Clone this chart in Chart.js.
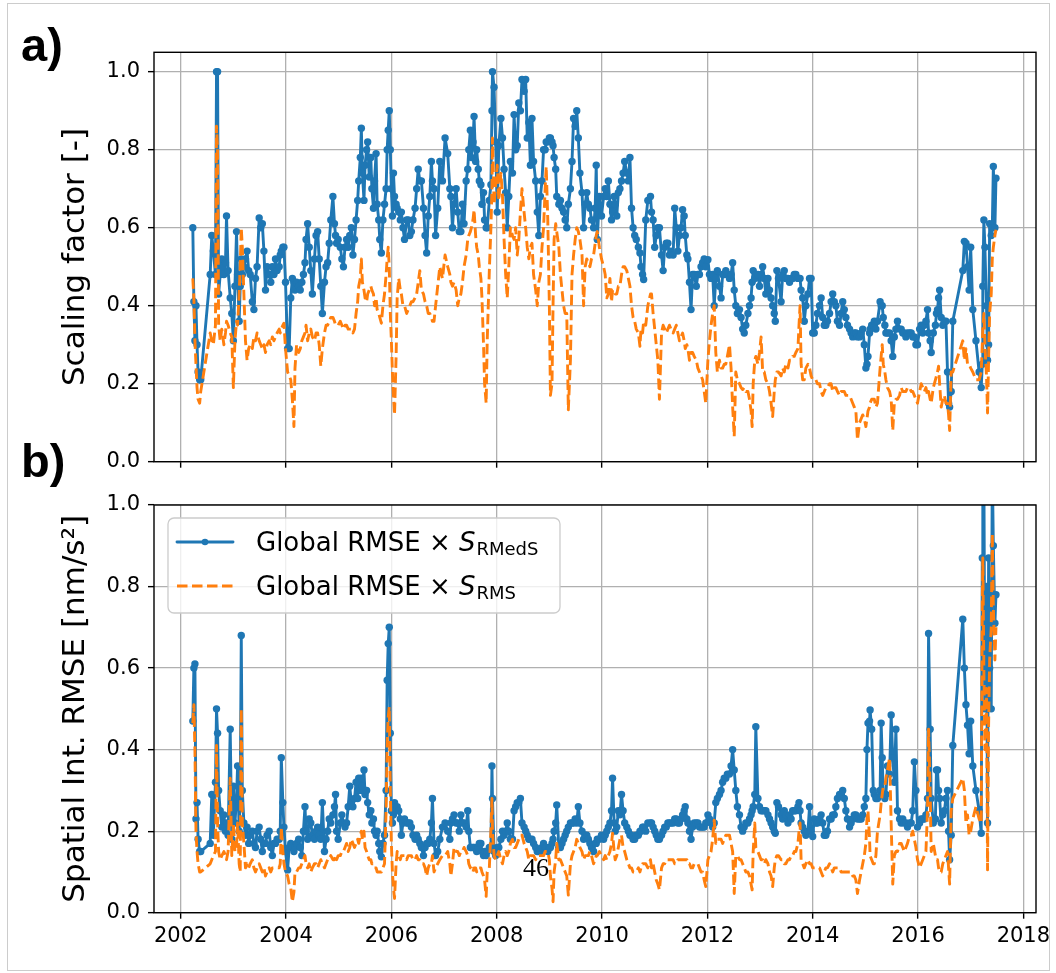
<!DOCTYPE html>
<html><head><meta charset="utf-8">
<script src="https://cdn.jsdelivr.net/npm/chart.js@4.4.1/dist/chart.umd.min.js"></script>
<style>
html,body{margin:0;padding:0;background:#fff;}
#wrap{position:relative;width:1056px;height:973px;overflow:hidden;background:#fff;}
canvas{position:absolute;left:0;top:0;}
.lbl{position:absolute;font-family:"Liberation Sans",Arial,sans-serif;font-weight:bold;font-size:47px;line-height:1;color:#000;}
#pg{position:absolute;font-family:"Liberation Serif",serif;font-size:26px;line-height:1;color:#000;}
#border{position:absolute;left:7px;top:3px;width:1041px;height:966px;border:1px solid #cccccc;}
</style></head>
<body><div id="wrap">
<div id="border"></div>
<canvas id="c1" width="1056" height="973"></canvas>
<canvas id="c2" width="1056" height="973"></canvas>
<div class="lbl" style="left:21px;top:21px">a)</div>
<div class="lbl" style="left:21px;top:437px">b)</div>
<div id="pg" style="left:523px;top:855px">46</div>
</div>
<script>
// ---- data (decimal years) ----
const dates = [
2002.23,2002.25,2002.27,2002.29,2002.31,2002.33,2002.36,2002.38,2002.56,2002.59,
2002.62,2002.66,2002.68,2002.70,2002.72,2002.75,2002.78,2002.82,2002.85,2002.87,
2002.90,2002.94,2002.97,2003.00,2003.03,2003.06,2003.08,2003.11,2003.13,2003.15,
2003.17,2003.20,2003.23,2003.26,2003.29,2003.32,2003.36,2003.39,2003.42,2003.45,
2003.49,2003.52,2003.55,2003.58,2003.61,2003.64,2003.68,2003.71,2003.74,2003.77,
2003.80,2003.83,2003.87,2003.89,2003.91,2003.94,2003.96,2003.99,2004.03,2004.06,
2004.09,2004.12,2004.15,2004.17,2004.20,2004.24,2004.27,2004.30,2004.33,2004.36,
2004.38,2004.41,2004.44,2004.47,2004.50,2004.54,2004.57,2004.60,2004.63,2004.66,
2004.69,2004.73,2004.76,2004.79,2004.82,2004.85,2004.89,2004.92,2004.94,2004.96,
2004.99,2005.03,2005.06,2005.09,2005.12,2005.15,2005.18,2005.21,2005.24,2005.27,
2005.30,2005.33,2005.36,2005.38,2005.41,2005.43,2005.45,2005.48,2005.50,2005.53,
2005.55,2005.58,2005.61,2005.63,2005.66,2005.68,2005.71,2005.73,2005.76,2005.78,
2005.81,2005.84,2005.87,2005.90,2005.92,2005.94,2005.96,2005.98,2006.00,2006.02,
2006.04,2006.06,2006.09,2006.11,2006.14,2006.17,2006.19,2006.22,2006.25,2006.29,
2006.32,2006.35,2006.38,2006.41,2006.45,2006.48,2006.51,2006.54,2006.57,2006.61,
2006.64,2006.67,2006.70,2006.73,2006.76,2006.78,2006.81,2006.84,2006.88,2006.92,
2006.97,2007.02,2007.07,2007.11,2007.13,2007.16,2007.19,2007.23,2007.26,2007.29,
2007.32,2007.35,2007.38,2007.42,2007.45,2007.47,2007.50,2007.52,2007.55,2007.57,
2007.60,2007.62,2007.65,2007.67,2007.70,2007.72,2007.75,2007.77,2007.80,2007.82,
2007.86,2007.89,2007.91,2007.92,2007.95,2007.98,2008.01,2008.04,2008.08,2008.11,
2008.14,2008.17,2008.20,2008.23,2008.26,2008.30,2008.33,2008.36,2008.39,2008.42,
2008.45,2008.48,2008.52,2008.55,2008.58,2008.61,2008.64,2008.67,2008.70,2008.74,
2008.77,2008.80,2008.83,2008.86,2008.89,2008.92,2008.94,2008.97,2009.00,2009.02,
2009.05,2009.07,2009.09,2009.12,2009.14,2009.18,2009.21,2009.24,2009.27,2009.30,
2009.33,2009.36,2009.40,2009.43,2009.46,2009.49,2009.52,2009.55,2009.58,2009.62,
2009.65,2009.68,2009.71,2009.74,2009.77,2009.80,2009.84,2009.87,2009.89,2009.91,
2009.95,2009.99,2010.03,2010.06,2010.09,2010.12,2010.15,2010.18,2010.20,2010.23,
2010.25,2010.28,2010.31,2010.34,2010.37,2010.40,2010.43,2010.47,2010.50,2010.53,
2010.56,2010.59,2010.62,2010.65,2010.69,2010.72,2010.74,2010.77,2010.79,2010.83,
2010.87,2010.92,2010.94,2010.97,2011.00,2011.03,2011.06,2011.09,2011.13,2011.16,
2011.19,2011.22,2011.25,2011.28,2011.31,2011.35,2011.38,2011.41,2011.44,2011.47,
2011.50,2011.53,2011.56,2011.58,2011.61,2011.63,2011.66,2011.69,2011.72,2011.75,
2011.79,2011.82,2011.85,2011.88,2011.91,2011.94,2011.97,2012.01,2012.04,2012.07,
2012.10,2012.13,2012.16,2012.19,2012.23,2012.26,2012.29,2012.32,2012.35,2012.38,
2012.42,2012.45,2012.48,2012.51,2012.54,2012.57,2012.61,2012.64,2012.67,2012.70,
2012.73,2012.77,2012.80,2012.83,2012.85,2012.87,2012.90,2012.92,2012.96,2012.99,
2013.02,2013.05,2013.08,2013.11,2013.15,2013.18,2013.21,2013.24,2013.27,2013.29,
2013.32,2013.35,2013.40,2013.43,2013.46,2013.49,2013.53,2013.56,2013.59,2013.62,
2013.65,2013.68,2013.72,2013.74,2013.76,2013.78,2013.81,2013.84,2013.87,2013.91,
2013.94,2013.97,2014.00,2014.03,2014.06,2014.09,2014.13,2014.16,2014.19,2014.22,
2014.25,2014.28,2014.32,2014.35,2014.38,2014.41,2014.44,2014.47,2014.51,2014.54,
2014.57,2014.60,2014.63,2014.66,2014.70,2014.73,2014.76,2014.79,2014.82,2014.85,
2014.89,2014.92,2014.95,2014.98,2015.01,2015.03,2015.05,2015.08,2015.09,2015.12,
2015.15,2015.17,2015.20,2015.23,2015.28,2015.30,2015.32,2015.34,2015.37,2015.39,
2015.42,2015.46,2015.49,2015.52,2015.55,2015.58,2015.61,2015.65,2015.68,2015.71,
2015.74,2015.77,2015.80,2015.84,2015.87,2015.90,2015.93,2015.96,2015.99,2016.03,
2016.06,2016.09,2016.12,2016.15,2016.18,2016.20,2016.23,2016.25,2016.29,2016.33,
2016.35,2016.37,2016.39,2016.41,2016.44,2016.47,2016.50,2016.53,2016.56,2016.58,
2016.60,2016.63,2016.66,2016.85,2016.88,2016.91,2016.94,2016.97,2017.00,2017.04,
2017.10,2017.16,2017.20,2017.22,2017.23,2017.25,2017.27,2017.30,2017.32,2017.34,
2017.36,2017.39,2017.41,2017.43,2017.46,2017.48
];
// panel a) scaling factor, S_RMedS
const scaleRMedS = [
0.60,0.41,0.31,0.40,0.30,0.23,0.21,0.21,0.48,0.58,
0.54,0.48,1.00,1.00,0.43,0.48,0.52,0.48,0.51,0.63,
0.49,0.42,0.38,0.31,0.45,0.59,0.48,0.36,0.45,0.52,
0.48,0.50,0.52,0.54,0.49,0.48,0.41,0.39,0.47,0.50,
0.625,0.60,0.61,0.54,0.44,0.50,0.48,0.46,0.50,0.48,
0.52,0.49,0.50,0.53,0.54,0.55,0.55,0.46,0.29,0.29,
0.42,0.47,0.46,0.44,0.46,0.45,0.44,0.46,0.48,0.51,
0.57,0.61,0.55,0.49,0.43,0.52,0.58,0.59,0.52,0.45,
0.38,0.46,0.50,0.51,0.56,0.62,0.68,0.61,0.58,0.56,
0.57,0.55,0.52,0.50,0.55,0.57,0.55,0.58,0.60,0.53,
0.57,0.62,0.67,0.72,0.78,0.855,0.74,0.67,0.76,0.80,
0.82,0.73,0.78,0.70,0.65,0.72,0.79,0.66,0.62,0.57,
0.535,0.62,0.66,0.70,0.80,0.85,0.90,0.80,0.70,0.63,
0.74,0.68,0.66,0.65,0.64,0.62,0.64,0.60,0.57,0.62,
0.62,0.58,0.59,0.62,0.65,0.70,0.75,0.72,0.72,0.65,
0.58,0.535,0.63,0.68,0.77,0.72,0.70,0.58,0.65,0.77,
0.72,0.83,0.79,0.70,0.68,0.60,0.66,0.70,0.64,0.59,
0.59,0.66,0.61,0.72,0.75,0.80,0.85,0.78,0.82,0.885,
0.77,0.80,0.75,0.72,0.71,0.66,0.69,0.62,0.60,0.60,
0.67,0.71,0.90,1.00,0.96,0.82,0.64,0.81,0.88,0.83,
0.75,0.69,0.60,0.68,0.77,0.74,0.89,0.80,0.81,0.92,
0.90,0.98,0.95,0.98,0.83,0.87,0.76,0.88,0.77,0.72,
0.64,0.58,0.68,0.72,0.80,0.80,0.82,0.82,0.83,0.83,
0.82,0.81,0.78,0.75,0.68,0.66,0.67,0.65,0.64,0.62,
0.60,0.66,0.70,0.77,0.88,0.86,0.90,0.83,0.74,0.69,
0.60,0.66,0.69,0.66,0.65,0.62,0.60,0.65,0.76,0.57,
0.68,0.63,0.68,0.70,0.68,0.72,0.66,0.62,0.64,0.68,
0.66,0.63,0.69,0.70,0.72,0.74,0.77,0.74,0.72,0.78,
0.65,0.60,0.58,0.57,0.55,0.535,0.50,0.48,0.467,0.62,
0.67,0.68,0.64,0.62,0.55,0.58,0.60,0.60,0.53,0.49,
0.55,0.56,0.56,0.53,0.54,0.53,0.65,0.60,0.54,0.58,
0.60,0.646,0.63,0.58,0.53,0.52,0.46,0.39,0.48,0.48,
0.45,0.48,0.48,0.50,0.51,0.52,0.50,0.518,0.48,0.47,
0.48,0.40,0.47,0.49,0.45,0.42,0.48,0.48,0.49,0.48,
0.47,0.48,0.51,0.44,0.40,0.38,0.39,0.37,0.34,0.33,
0.35,0.38,0.40,0.42,0.46,0.49,0.47,0.48,0.48,0.45,
0.48,0.50,0.47,0.43,0.47,0.44,0.42,0.40,0.38,0.36,
0.49,0.47,0.41,0.48,0.49,0.47,0.47,0.46,0.47,0.47,
0.48,0.48,0.47,0.47,0.47,0.44,0.42,0.36,0.40,0.43,
0.47,0.47,0.33,0.33,0.35,0.38,0.40,0.42,0.37,0.35,
0.35,0.36,0.38,0.41,0.43,0.41,0.40,0.36,0.35,0.38,
0.41,0.39,0.37,0.35,0.34,0.33,0.32,0.33,0.33,0.32,
0.32,0.33,0.34,0.30,0.24,0.25,0.27,0.33,0.34,0.35,
0.35,0.36,0.34,0.36,0.41,0.40,0.40,0.37,0.35,0.33,
0.33,0.33,0.31,0.27,0.32,0.34,0.36,0.34,0.34,0.33,
0.33,0.32,0.33,0.33,0.33,0.32,0.32,0.30,0.30,0.34,
0.35,0.33,0.35,0.36,0.39,0.33,0.31,0.28,0.33,0.35,
0.38,0.39,0.42,0.44,0.37,0.35,0.36,0.36,0.23,0.15,
0.14,0.18,0.36,0.49,0.565,0.56,0.50,0.44,0.55,0.39,
0.31,0.23,0.19,0.25,0.45,0.62,0.55,0.40,0.26,0.30,
0.61,0.58,0.60,0.757,0.60,0.727
];
// panel a) scaling factor, S_RMS
const scaleRMS = [
0.47,0.42,0.31,0.25,0.19,0.16,0.15,0.18,0.33,0.31,
0.30,0.35,0.86,0.80,0.35,0.31,0.34,0.30,0.33,0.36,
0.35,0.33,0.32,0.19,0.31,0.36,0.35,0.43,0.50,0.60,
0.55,0.43,0.31,0.26,0.29,0.30,0.29,0.32,0.31,0.33,
0.31,0.30,0.29,0.30,0.28,0.30,0.31,0.30,0.32,0.31,
0.32,0.33,0.34,0.33,0.34,0.35,0.355,0.29,0.23,0.22,
0.21,0.16,0.09,0.24,0.30,0.28,0.29,0.31,0.32,0.33,
0.35,0.31,0.33,0.34,0.32,0.31,0.33,0.33,0.30,0.245,
0.29,0.33,0.35,0.35,0.36,0.37,0.37,0.36,0.35,0.35,
0.35,0.36,0.35,0.34,0.35,0.35,0.34,0.34,0.34,0.33,
0.34,0.38,0.41,0.45,0.47,0.52,0.46,0.44,0.42,0.41,
0.43,0.44,0.45,0.44,0.43,0.40,0.42,0.39,0.38,0.37,
0.355,0.40,0.43,0.48,0.52,0.55,0.50,0.38,0.31,0.23,
0.17,0.12,0.27,0.42,0.47,0.44,0.43,0.40,0.40,0.38,
0.39,0.40,0.41,0.41,0.42,0.43,0.46,0.49,0.44,0.43,
0.41,0.40,0.38,0.38,0.37,0.36,0.36,0.40,0.45,0.50,
0.47,0.53,0.50,0.48,0.46,0.45,0.46,0.44,0.40,0.42,
0.43,0.46,0.50,0.53,0.57,0.58,0.59,0.60,0.62,0.646,
0.58,0.55,0.53,0.50,0.47,0.42,0.30,0.20,0.15,0.31,
0.49,0.60,0.70,0.83,0.66,0.71,0.76,0.67,0.74,0.68,
0.57,0.48,0.42,0.50,0.60,0.58,0.57,0.60,0.53,0.57,
0.64,0.70,0.64,0.60,0.55,0.52,0.55,0.56,0.48,0.44,
0.40,0.46,0.48,0.55,0.60,0.70,0.757,0.62,0.40,0.17,
0.20,0.40,0.57,0.61,0.59,0.55,0.48,0.44,0.40,0.38,
0.38,0.133,0.26,0.48,0.53,0.57,0.60,0.59,0.57,0.53,
0.40,0.50,0.52,0.51,0.50,0.52,0.53,0.56,0.58,0.59,
0.55,0.52,0.50,0.48,0.42,0.43,0.47,0.41,0.44,0.44,
0.43,0.43,0.45,0.45,0.48,0.50,0.50,0.49,0.47,0.45,
0.40,0.37,0.36,0.34,0.33,0.296,0.34,0.33,0.36,0.35,
0.40,0.43,0.43,0.38,0.34,0.30,0.26,0.16,0.33,0.35,
0.34,0.33,0.34,0.35,0.34,0.33,0.34,0.35,0.33,0.31,
0.32,0.33,0.31,0.29,0.30,0.29,0.26,0.28,0.28,0.27,
0.26,0.24,0.23,0.22,0.21,0.18,0.15,0.26,0.31,0.35,
0.38,0.40,0.28,0.23,0.26,0.24,0.24,0.25,0.25,0.27,
0.30,0.24,0.14,0.065,0.23,0.21,0.20,0.19,0.185,0.19,
0.18,0.18,0.16,0.13,0.09,0.20,0.26,0.27,0.25,0.28,
0.32,0.23,0.23,0.21,0.20,0.18,0.15,0.116,0.18,0.21,
0.23,0.23,0.22,0.24,0.23,0.25,0.24,0.26,0.26,0.27,
0.27,0.28,0.29,0.35,0.40,0.25,0.21,0.21,0.24,0.25,
0.24,0.22,0.21,0.21,0.21,0.20,0.20,0.18,0.17,0.18,
0.19,0.19,0.20,0.20,0.18,0.19,0.19,0.18,0.17,0.18,
0.18,0.18,0.17,0.17,0.17,0.16,0.15,0.14,0.13,0.056,
0.10,0.11,0.12,0.11,0.09,0.11,0.13,0.14,0.15,0.16,
0.16,0.16,0.14,0.15,0.24,0.27,0.30,0.25,0.23,0.21,
0.19,0.18,0.16,0.08,0.15,0.16,0.16,0.17,0.19,0.18,
0.18,0.18,0.19,0.19,0.18,0.18,0.17,0.16,0.15,0.18,
0.20,0.19,0.18,0.19,0.17,0.18,0.16,0.15,0.19,0.21,
0.22,0.23,0.245,0.20,0.14,0.16,0.17,0.15,0.15,0.12,
0.08,0.23,0.23,0.31,0.26,0.29,0.25,0.25,0.24,0.23,
0.21,0.21,0.23,0.30,0.34,0.38,0.30,0.22,0.125,0.26,
0.38,0.43,0.52,0.55,0.58,0.595
];
// panel b) spatial int. RMSE [nm/s^2], Global RMSE x S_RMedS
const rmseRMedS = [
0.47,0.60,0.61,0.23,0.27,0.18,0.15,0.15,0.17,0.29,
0.19,0.32,0.50,0.44,0.30,0.25,0.21,0.24,0.20,0.22,
0.19,0.45,0.18,0.31,0.22,0.28,0.36,0.20,0.28,0.68,
0.30,0.22,0.19,0.21,0.17,0.19,0.20,0.17,0.16,0.20,
0.21,0.18,0.15,0.17,0.17,0.19,0.20,0.16,0.14,0.17,
0.17,0.18,0.18,0.20,0.38,0.27,0.21,0.15,0.105,0.16,
0.17,0.16,0.15,0.16,0.17,0.18,0.16,0.14,0.20,0.26,
0.20,0.18,0.23,0.22,0.19,0.18,0.20,0.21,0.19,0.18,
0.27,0.15,0.18,0.20,0.23,0.22,0.24,0.26,0.29,0.20,
0.18,0.22,0.24,0.22,0.21,0.22,0.26,0.31,0.27,0.26,
0.28,0.32,0.28,0.33,0.30,0.33,0.31,0.35,0.29,0.30,
0.27,0.24,0.25,0.22,0.23,0.20,0.19,0.20,0.17,0.15,
0.137,0.17,0.19,0.30,0.57,0.66,0.70,0.44,0.25,0.22,
0.24,0.27,0.25,0.26,0.25,0.23,0.19,0.22,0.23,0.22,
0.22,0.22,0.21,0.19,0.18,0.19,0.18,0.17,0.16,0.14,
0.16,0.17,0.17,0.18,0.22,0.28,0.17,0.14,0.15,0.18,
0.21,0.22,0.20,0.18,0.22,0.23,0.24,0.22,0.22,0.20,
0.24,0.22,0.22,0.21,0.25,0.20,0.16,0.16,0.16,0.16,
0.16,0.15,0.16,0.17,0.17,0.15,0.14,0.15,0.14,0.15,
0.16,0.16,0.36,0.28,0.15,0.14,0.16,0.16,0.18,0.20,
0.19,0.20,0.22,0.20,0.18,0.18,0.25,0.26,0.27,0.27,
0.28,0.22,0.21,0.20,0.19,0.18,0.18,0.18,0.17,0.16,
0.15,0.15,0.15,0.16,0.17,0.16,0.16,0.15,0.16,0.16,
0.17,0.18,0.20,0.22,0.264,0.16,0.16,0.17,0.18,0.19,
0.20,0.21,0.22,0.22,0.22,0.23,0.22,0.26,0.22,0.20,
0.18,0.19,0.19,0.18,0.17,0.16,0.15,0.17,0.17,0.18,
0.18,0.19,0.18,0.19,0.20,0.21,0.22,0.25,0.33,0.22,
0.20,0.21,0.25,0.24,0.29,0.25,0.22,0.21,0.20,0.19,
0.19,0.18,0.18,0.19,0.19,0.20,0.20,0.21,0.21,0.20,
0.22,0.22,0.22,0.21,0.20,0.19,0.18,0.18,0.19,0.20,
0.21,0.21,0.22,0.22,0.22,0.22,0.23,0.23,0.22,0.22,
0.23,0.24,0.25,0.26,0.23,0.22,0.20,0.18,0.21,0.22,
0.22,0.22,0.21,0.21,0.21,0.21,0.22,0.24,0.23,0.22,
0.21,0.22,0.27,0.28,0.29,0.30,0.32,0.33,0.33,0.34,
0.34,0.36,0.40,0.35,0.30,0.26,0.24,0.21,0.20,0.21,
0.22,0.22,0.23,0.24,0.25,0.26,0.29,0.456,0.28,0.26,
0.25,0.25,0.25,0.25,0.24,0.23,0.22,0.21,0.20,0.195,
0.27,0.26,0.24,0.23,0.25,0.24,0.22,0.24,0.23,0.25,
0.25,0.25,0.26,0.27,0.25,0.22,0.21,0.20,0.19,0.20,
0.26,0.20,0.187,0.23,0.22,0.22,0.23,0.24,0.22,0.19,
0.19,0.20,0.23,0.23,0.24,0.24,0.26,0.28,0.29,0.29,
0.30,0.28,0.25,0.23,0.21,0.22,0.23,0.24,0.24,0.23,
0.23,0.23,0.24,0.26,0.28,0.40,0.465,0.47,0.497,0.45,
0.30,0.29,0.28,0.28,0.30,0.465,0.38,0.29,0.28,0.29,
0.36,0.34,0.485,0.38,0.32,0.45,0.25,0.23,0.22,0.23,
0.22,0.22,0.21,0.22,0.22,0.25,0.37,0.30,0.21,0.22,
0.23,0.23,0.23,0.24,0.28,0.685,0.45,0.28,0.22,0.23,
0.35,0.35,0.30,0.28,0.22,0.24,0.25,0.28,0.30,0.20,
0.13,0.19,0.41,0.72,0.60,0.51,0.46,0.39,0.47,0.36,
0.30,0.25,0.195,0.87,1.10,1.10,0.50,0.80,0.22,0.87,
0.60,0.50,1.10,0.90,0.71,0.78
];
// panel b) Global RMSE x S_RMS
const rmseRMS = [
0.465,0.51,0.40,0.20,0.15,0.12,0.10,0.10,0.12,0.13,
0.14,0.15,0.41,0.22,0.15,0.13,0.14,0.15,0.14,0.13,
0.15,0.33,0.14,0.22,0.15,0.16,0.22,0.12,0.10,0.50,
0.22,0.17,0.11,0.12,0.11,0.12,0.13,0.11,0.10,0.11,
0.12,0.11,0.10,0.11,0.09,0.10,0.11,0.10,0.11,0.11,
0.11,0.11,0.11,0.12,0.21,0.15,0.12,0.10,0.09,0.07,
0.06,0.027,0.05,0.10,0.10,0.11,0.11,0.12,0.13,0.14,
0.12,0.11,0.12,0.10,0.11,0.12,0.12,0.11,0.12,0.13,
0.12,0.11,0.12,0.13,0.13,0.14,0.13,0.13,0.14,0.13,
0.14,0.14,0.15,0.15,0.16,0.17,0.15,0.16,0.18,0.17,
0.16,0.17,0.18,0.17,0.19,0.20,0.18,0.20,0.16,0.15,
0.14,0.13,0.13,0.12,0.12,0.11,0.11,0.10,0.10,0.10,
0.10,0.11,0.12,0.25,0.41,0.48,0.505,0.30,0.17,0.10,
0.06,0.035,0.12,0.15,0.14,0.13,0.14,0.14,0.14,0.13,
0.14,0.14,0.14,0.13,0.13,0.14,0.13,0.13,0.12,0.12,
0.11,0.09,0.11,0.12,0.12,0.14,0.10,0.11,0.12,0.13,
0.14,0.14,0.15,0.12,0.09,0.12,0.16,0.15,0.15,0.14,
0.15,0.15,0.16,0.15,0.14,0.12,0.11,0.11,0.10,0.11,
0.11,0.10,0.11,0.11,0.11,0.10,0.09,0.08,0.04,0.10,
0.11,0.20,0.28,0.20,0.14,0.13,0.14,0.15,0.13,0.12,
0.14,0.15,0.14,0.15,0.17,0.18,0.16,0.16,0.17,0.18,
0.19,0.19,0.17,0.16,0.15,0.13,0.14,0.14,0.14,0.13,
0.14,0.14,0.14,0.14,0.14,0.15,0.15,0.15,0.13,0.09,
0.06,0.027,0.10,0.13,0.17,0.13,0.13,0.12,0.11,0.10,
0.09,0.043,0.12,0.14,0.15,0.16,0.18,0.17,0.16,0.15,
0.13,0.14,0.14,0.14,0.15,0.14,0.12,0.13,0.14,0.14,
0.15,0.14,0.13,0.14,0.13,0.14,0.15,0.17,0.195,0.15,
0.13,0.14,0.16,0.18,0.19,0.16,0.15,0.13,0.12,0.11,
0.11,0.10,0.10,0.10,0.11,0.10,0.11,0.12,0.12,0.12,
0.11,0.13,0.11,0.12,0.10,0.08,0.07,0.056,0.11,0.12,
0.12,0.13,0.13,0.13,0.13,0.13,0.12,0.12,0.13,0.13,
0.13,0.13,0.13,0.13,0.13,0.12,0.12,0.11,0.11,0.12,
0.12,0.12,0.11,0.10,0.10,0.08,0.064,0.13,0.14,0.15,
0.18,0.227,0.17,0.18,0.18,0.18,0.17,0.18,0.19,0.19,
0.19,0.17,0.15,0.047,0.14,0.14,0.13,0.13,0.12,0.11,
0.10,0.10,0.09,0.07,0.056,0.15,0.22,0.16,0.15,0.14,
0.13,0.13,0.12,0.13,0.12,0.10,0.09,0.064,0.11,0.13,
0.14,0.14,0.13,0.13,0.12,0.12,0.13,0.13,0.14,0.14,
0.15,0.15,0.17,0.20,0.22,0.13,0.12,0.11,0.12,0.13,
0.12,0.12,0.11,0.11,0.11,0.11,0.11,0.10,0.09,0.10,
0.11,0.11,0.12,0.11,0.10,0.11,0.11,0.11,0.11,0.10,
0.10,0.10,0.10,0.10,0.10,0.10,0.09,0.09,0.08,0.047,
0.08,0.10,0.12,0.14,0.17,0.23,0.25,0.18,0.14,0.13,
0.12,0.12,0.14,0.20,0.24,0.27,0.29,0.31,0.31,0.33,
0.35,0.38,0.22,0.07,0.14,0.15,0.15,0.17,0.17,0.16,
0.15,0.16,0.17,0.19,0.19,0.20,0.18,0.16,0.13,0.11,
0.12,0.13,0.14,0.15,0.25,0.45,0.30,0.15,0.17,0.14,
0.13,0.13,0.11,0.10,0.10,0.12,0.13,0.14,0.15,0.11,
0.07,0.25,0.28,0.33,0.30,0.22,0.24,0.19,0.20,0.23,
0.26,0.23,0.22,0.76,0.87,0.60,0.40,0.55,0.105,0.46,
0.62,0.70,0.93,0.75,0.62,0.70
];
const xTickValues = [2002,2004,2006,2008,2010,2012,2014,2016,2018];
const yTickValues = [0.0,0.2,0.4,0.6,0.8,1.0];
const legendEntries = [
  {main:'Global RMSE × ', sym:'S', sub:'RMedS'},
  {main:'Global RMSE × ', sym:'S', sub:'RMS'}
];
const yTitles = ['Scaling factor [-]', 'Spatial Int. RMSE [nm/s²]'];

// ---- drawing ----
const BLUE = '#1f77b4', ORANGE = '#ff7f0e';
const FONT = '"DejaVu Sans", Verdana, sans-serif';
const LW = 2.9, DASH = [10.5, 4.5], PR = 3.7;
function pts(arr){ return dates.map((d,i)=>({x:d, y:arr[i]})); }

const framePlugin = {
  id:'frame',
  afterDraw(chart){
    const {ctx, chartArea:a} = chart;
    ctx.save();
    ctx.strokeStyle = '#000'; ctx.lineWidth = 1.4;
    ctx.strokeRect(a.left, a.top, a.right - a.left, a.bottom - a.top);
    ctx.restore();
  }
};

const legendPlugin = {
  id:'customLegend',
  afterDraw(chart){
    const {ctx, chartArea:a} = chart;
    const x = a.left + 14, y = a.top + 13, w = 392, h = 95;
    ctx.save();
    ctx.beginPath();
    ctx.roundRect(x, y, w, h, 6);
    ctx.fillStyle = 'rgba(255,255,255,0.8)';
    ctx.fill();
    ctx.strokeStyle = '#cccccc'; ctx.lineWidth = 1.3; ctx.stroke();
    const rows = [
      {color:BLUE, dash:[], marker:true, ly:y+24, base:y+33},
      {color:ORANGE, dash:DASH, marker:false, ly:y+68, base:y+77}
    ];
    rows.forEach((r,i)=>{
      ctx.setLineDash(r.dash);
      ctx.strokeStyle = r.color; ctx.lineWidth = LW;
      ctx.lineCap = r.dash.length ? 'butt' : 'round';
      ctx.beginPath(); ctx.moveTo(x+9, r.ly); ctx.lineTo(x+65, r.ly); ctx.stroke();
      ctx.setLineDash([]);
      if (r.marker){
        ctx.fillStyle = r.color;
        ctx.beginPath(); ctx.arc(x+37, r.ly, 3.3, 0, Math.PI*2); ctx.fill();
      }
      const e = legendEntries[i];
      ctx.fillStyle = '#000';
      ctx.textBaseline = 'alphabetic'; ctx.textAlign = 'left';
      let tx = x + 88;
      ctx.font = '26px ' + FONT;
      ctx.fillText(e.main, tx, r.base);
      tx += ctx.measureText(e.main).width;
      ctx.font = 'italic 26px ' + FONT;
      ctx.fillText(e.sym, tx, r.base);
      tx += ctx.measureText(e.sym).width + 1;
      ctx.font = '18px ' + FONT;
      ctx.fillText(e.sub, tx, r.base + 4);
    });
    ctx.restore();
  }
};

function makeChart(id, blueArr, orangeArr, cfg){
  return new Chart(document.getElementById(id), {
    type:'line',
    data:{datasets:[
      {label:'Global RMSE × S_RMS', data:pts(orangeArr), borderColor:ORANGE, backgroundColor:ORANGE,
       borderWidth:LW, borderDash:DASH, borderCapStyle:'butt', borderJoinStyle:'round',
       pointRadius:0, pointHoverRadius:0, fill:false, tension:0, clip:0, order:0},
      {label:'Global RMSE × S_RMedS', data:pts(blueArr), borderColor:BLUE, backgroundColor:BLUE,
       borderWidth:LW, borderCapStyle:'round', borderJoinStyle:'round',
       pointRadius:PR, pointHoverRadius:0, pointBackgroundColor:BLUE, pointBorderWidth:0,
       fill:false, tension:0, clip:0, order:1}
    ]},
    options:{
      responsive:false, animation:false, devicePixelRatio:1,
      events:[],
      layout:{padding:cfg.padding},
      plugins:{legend:{display:false}, tooltip:{enabled:false}, title:{display:false}},
      scales:{
        x:{type:'linear', min:2001.493, max:2018.24,
           afterBuildTicks(s){ s.ticks = xTickValues.map(v=>({value:v})); },
           afterFit(s){ s.height = cfg.xHeight; },
           ticks:{display:cfg.xLabels, color:'#000', padding:5, font:{family:FONT, size:21},
                  callback:(v)=>String(v), maxRotation:0, autoSkip:false},
           grid:{color:'#b0b0b0', lineWidth:1.3, drawTicks:true, tickLength:6, tickColor:'#000', tickWidth:1.4},
           border:{display:false}},
        y:{type:'linear', min:0, max:cfg.yMax,
           afterBuildTicks(s){ s.ticks = yTickValues.map(v=>({value:v})); },
           afterFit(s){ s.width = 154; },
           ticks:{color:'#000', padding:8, font:{family:FONT, size:21},
                  callback:(v)=>Number(v).toFixed(1), autoSkip:false},
           grid:{color:'#b0b0b0', lineWidth:1.3, drawTicks:true, tickLength:6, tickColor:'#000', tickWidth:1.4},
           border:{display:false},
           title:{display:true, text:cfg.yTitle, color:'#000', font:{family:FONT, size:31},
                  padding:{top:57, bottom:0}}}
      }
    },
    plugins: cfg.legend ? [framePlugin, legendPlugin] : [framePlugin]
  });
}

makeChart('c1', scaleRMedS, scaleRMS, {
  padding:{top:52.3, left:0, right:20, bottom:973-461.7-8},
  xHeight:8, xLabels:false, yMax:1.0497, yTitle:yTitles[0], legend:false
});
makeChart('c2', rmseRMedS, rmseRMS, {
  padding:{top:505, left:0, right:20, bottom:973-912.7-40},
  xHeight:40, xLabels:true, yMax:1.0, yTitle:yTitles[1], legend:true
});
</script>
</body></html>
